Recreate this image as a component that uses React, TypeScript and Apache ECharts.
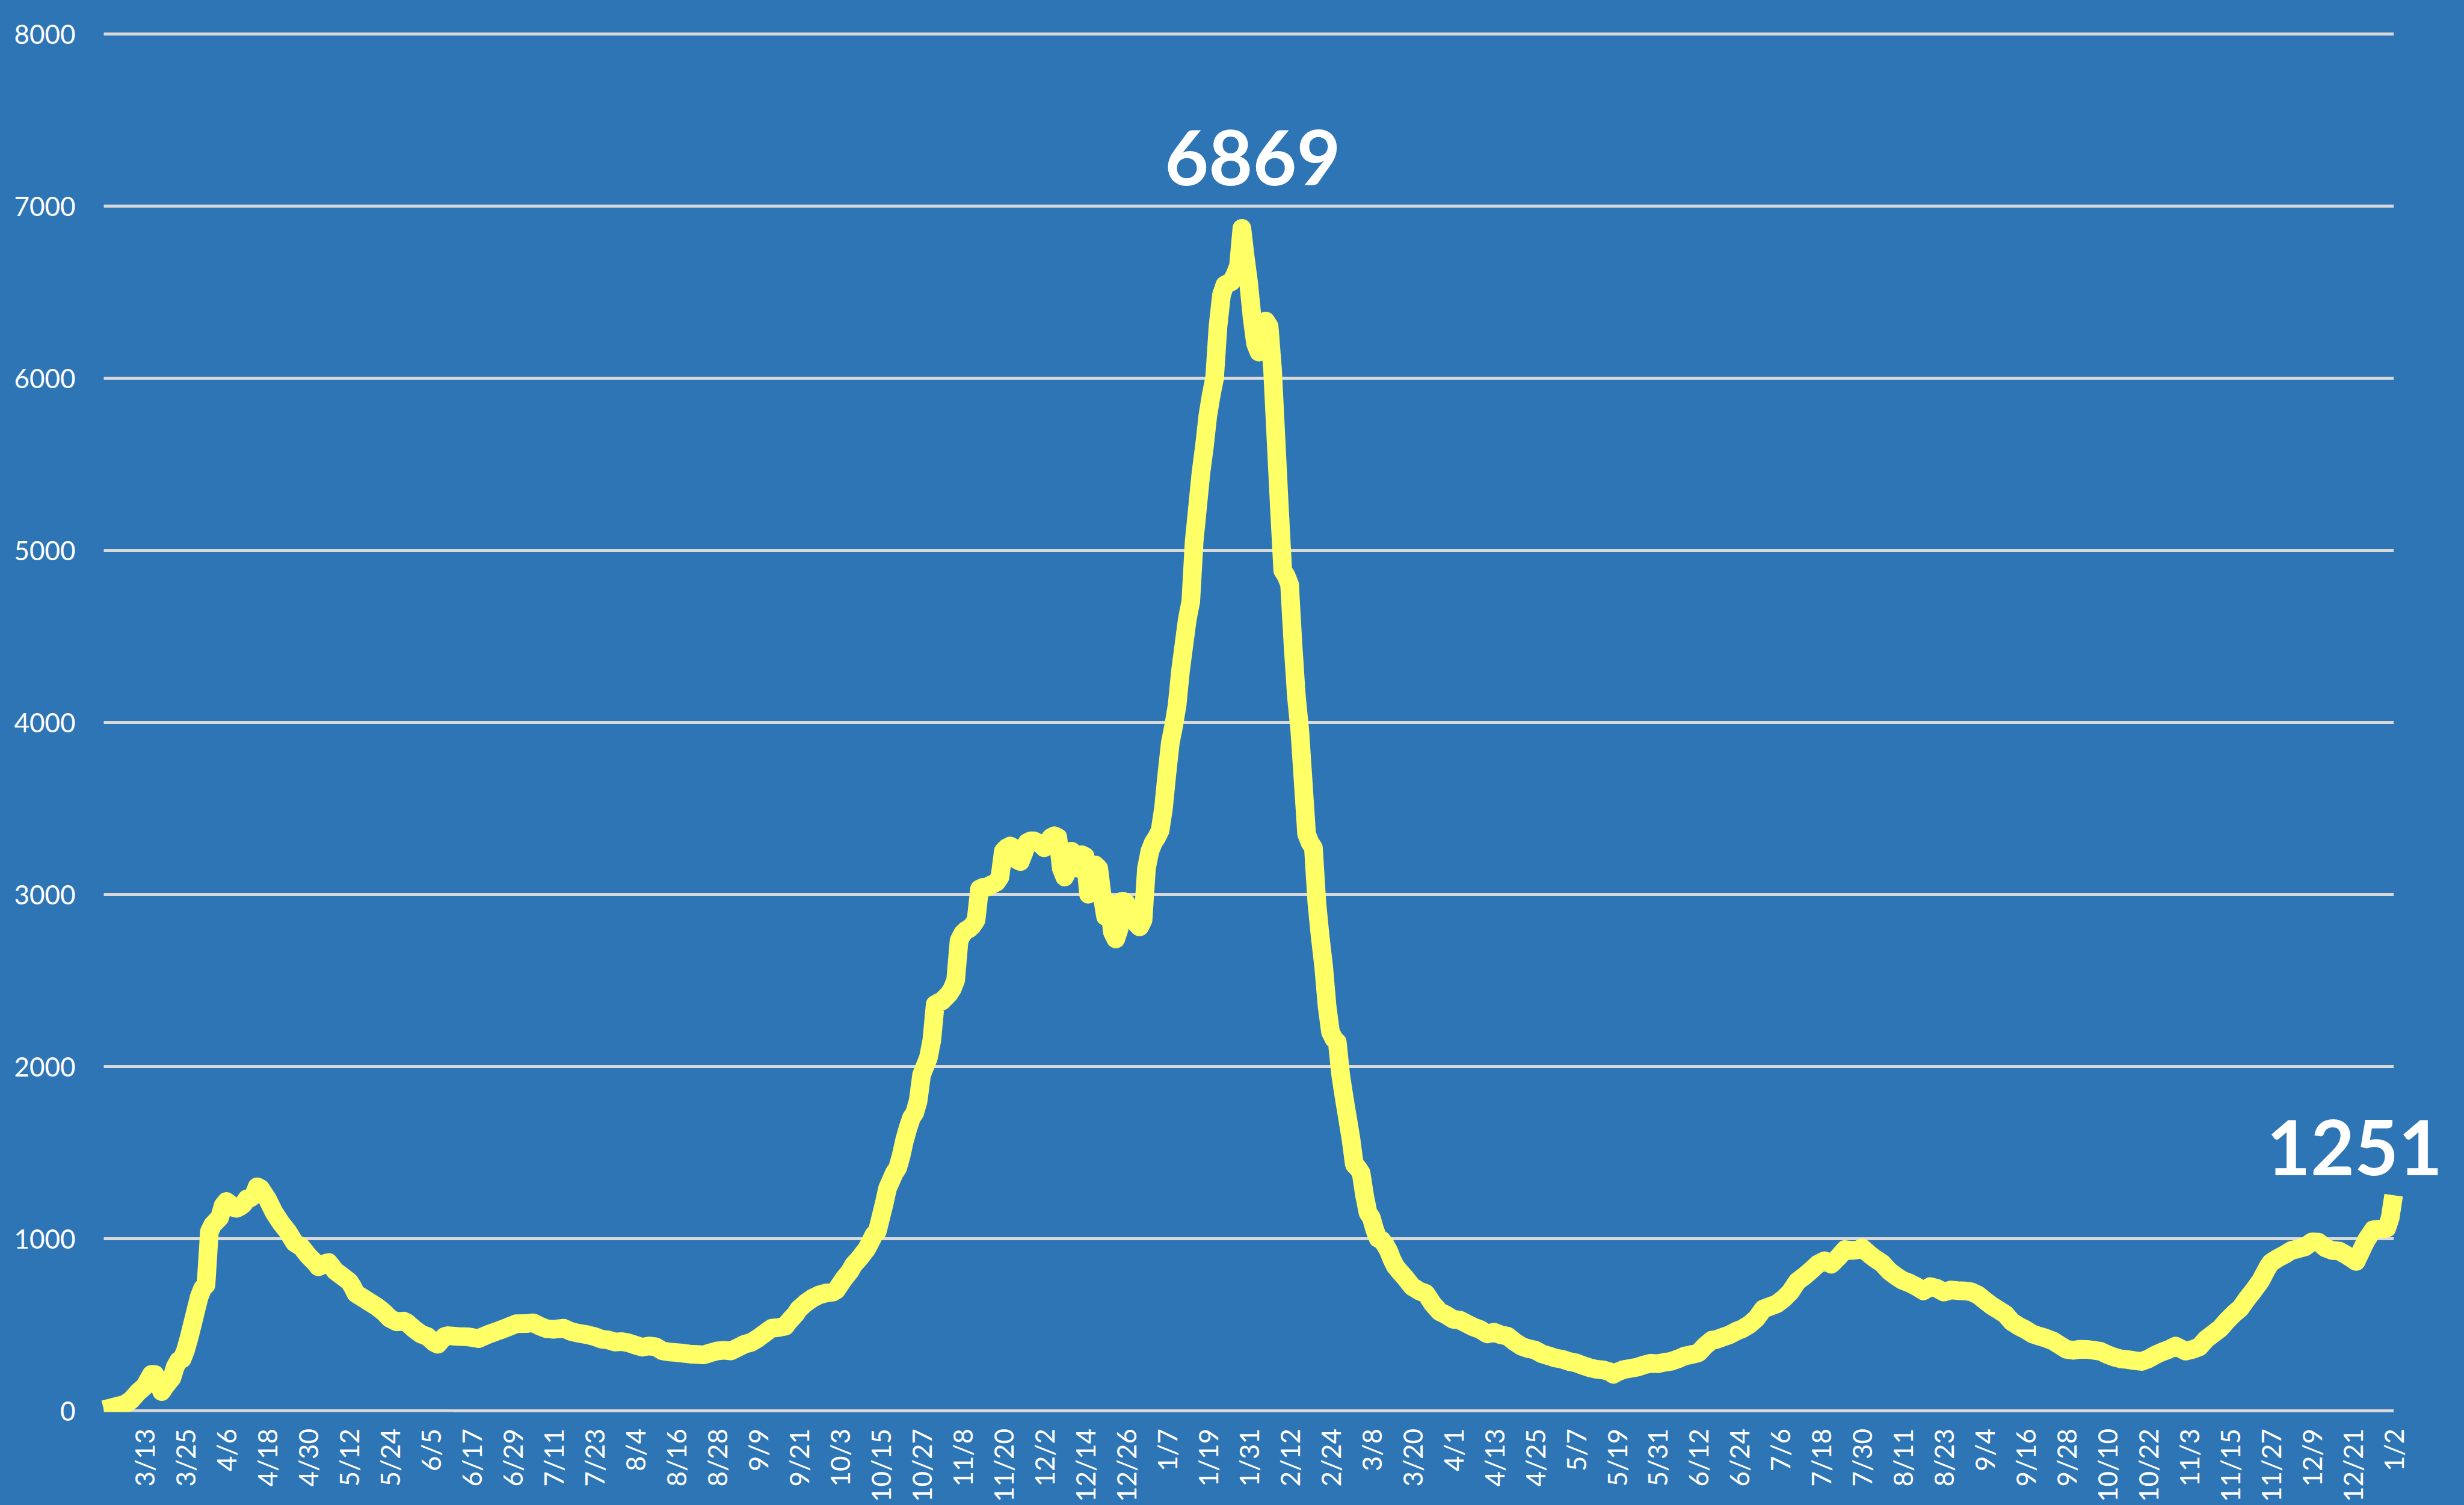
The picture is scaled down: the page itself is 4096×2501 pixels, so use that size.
import React, { useEffect, useRef } from "react";
import * as echarts from "echarts";

// ---- categories: one per day from 3/1/2020 to 1/2/2022 ----
const FIRST_DAY = Date.UTC(2020, 2, 1);
const DAY_COUNT = 673;
const dates: string[] = Array.from({ length: DAY_COUNT }, (_, i) => {
  const d = new Date(FIRST_DAY + i * 86400000);
  return `${d.getUTCMonth() + 1}/${d.getUTCDate()}/${d.getUTCFullYear()}`;
});

// ---- y axis ticks ----
const Y_MIN = 0;
const Y_MAX = 8000;
const Y_STEP = 1000;

// ---- readings: [day index since 3/1/2020, value] ----
const spring2020: [number, number][] = [
  [0, 5], [2, 15], [4, 25], [6, 35], [8, 60], [10, 105], [12, 140], [14, 210], [15, 210], [17, 110],
  [18, 140], [20, 190], [21, 255], [22, 290], [23, 300], [24, 350], [25, 420], [26, 500], [27, 580],
  [28, 660], [29, 710], [30, 730], [31, 1040], [32, 1080], [33, 1100], [34, 1120], [35, 1190], [36, 1215],
  [37, 1200], [38, 1180], [39, 1175], [40, 1185], [41, 1200], [42, 1230], [43, 1235], [44, 1250], [45, 1300],
  [46, 1290], [47, 1260], [48, 1230], [50, 1150], [52, 1090], [54, 1040], [56, 975], [58, 950], [60, 900],
  [62, 860], [63, 835], [65, 855], [66, 860], [68, 810], [70, 780], [72, 750], [73, 720], [74, 680],
  [76, 655], [78, 630], [80, 605], [82, 575], [84, 535], [86, 515], [88, 520], [89, 510], [91, 475],
  [93, 445], [95, 430], [97, 395], [98, 385],
];
const summer2020: [number, number][] = [
  [100, 430], [101, 435], [104, 430], [107, 428], [110, 418], [113, 444], [116, 465], [118, 480], [121, 504],
  [124, 505], [126, 510], [128, 490], [130, 475], [132, 472], [135, 478], [137, 460], [139, 450], [142, 440],
  [144, 430], [146, 415], [148, 410], [150, 398], [152, 400], [154, 393], [156, 380], [158, 368], [160, 375],
  [162, 370], [164, 346], [166, 340], [168, 337], [170, 333], [172, 328], [174, 326], [176, 323], [178, 335],
  [180, 346], [182, 350], [184, 346], [186, 365], [188, 385], [190, 396], [192, 420], [194, 450], [196, 478],
  [198, 482],
];
const fall2020: [number, number][] = [
  [200, 490], [201, 517], [203, 560], [204, 590], [206, 625], [208, 653], [210, 672], [212, 683], [214, 688],
  [215, 700], [217, 760], [219, 810], [220, 845], [222, 890], [224, 942], [226, 1020], [227, 1040], [228, 1120],
  [229, 1200], [230, 1290], [232, 1380], [233, 1410], [234, 1480], [235, 1570], [236, 1640], [237, 1700],
  [238, 1730], [239, 1800], [240, 1950], [241, 2000], [242, 2050], [243, 2150], [244, 2360], [245, 2370],
  [246, 2380], [247, 2400], [248, 2420], [249, 2450], [250, 2500], [251, 2730], [252, 2770], [253, 2790],
  [254, 2800], [255, 2820], [256, 2850], [257, 3030], [258, 3040], [259, 3040], [260, 3050], [261, 3060],
  [262, 3070], [263, 3100], [264, 3250], [265, 3270], [266, 3280], [267, 3270], [268, 3200], [269, 3190],
  [270, 3240], [271, 3300], [272, 3310], [273, 3310], [274, 3300], [275, 3290], [276, 3270], [277, 3300],
  [278, 3330], [279, 3340], [280, 3330], [281, 3150], [282, 3100], [283, 3150], [284, 3250], [285, 3230],
  [286, 3150], [287, 3230], [288, 3220], [289, 3000], [290, 3100], [291, 3170], [292, 3150], [293, 2990],
  [294, 2870], [295, 2950], [296, 2780], [297, 2740], [298, 2800], [299, 2960], [300, 2950], [301, 2880],
  [302, 2900], [303, 2830], [304, 2810], [305, 2850],
];
const winter2021: [number, number][] = [
  [306, 3150], [307, 3250], [308, 3300], [309, 3330], [310, 3370], [311, 3500], [312, 3700], [313, 3880],
  [314, 3980], [315, 4100], [316, 4300], [317, 4450], [318, 4600], [319, 4700], [320, 5050], [321, 5250],
  [322, 5450], [323, 5600], [324, 5780], [325, 5900], [326, 6000], [327, 6300], [328, 6480], [329, 6540],
  [330, 6550], [331, 6560], [332, 6600], [333, 6650], [334, 6869], [335, 6700], [336, 6550], [337, 6350],
  [338, 6200], [339, 6150], [340, 6250], [341, 6330], [342, 6300], [343, 6050], [344, 5650], [345, 5250],
  [346, 4880], [347, 4850], [348, 4800], [349, 4450], [350, 4150], [351, 3950], [352, 3650], [353, 3350],
  [354, 3300], [355, 3270], [356, 2950], [357, 2750], [358, 2580], [359, 2350], [360, 2200], [361, 2160],
  [362, 2140], [363, 1950], [364, 1820], [365, 1700], [366, 1580], [367, 1430], [368, 1410], [369, 1380],
  [370, 1250], [371, 1150], [372, 1120], [373, 1050], [374, 1000], [375, 990], [376, 965], [377, 930],
  [378, 880], [379, 840],
];
const spring2021: [number, number][] = [
  [380, 815], [382, 770], [384, 720], [386, 695], [388, 680], [390, 620], [392, 575], [394, 555], [396, 530],
  [398, 525], [400, 505], [402, 485], [404, 470], [406, 445], [408, 455], [410, 440], [412, 432], [414, 400],
  [416, 374], [418, 360], [420, 352], [422, 330], [424, 318], [426, 305], [428, 298], [430, 285], [432, 277],
  [434, 262], [436, 249], [438, 240], [440, 236], [442, 225], [443, 210], [444, 222], [446, 238], [448, 245],
  [450, 252], [452, 265], [454, 275], [456, 272], [458, 280], [460, 286], [462, 300], [464, 317], [466, 325],
  [468, 335],
];
const summer2021: [number, number][] = [
  [470, 377], [472, 410], [473, 411], [475, 425], [477, 439], [479, 460], [481, 476], [483, 500], [485, 535],
  [487, 590], [489, 605], [491, 620], [493, 650], [495, 690], [497, 750], [499, 780], [501, 814], [503, 850],
  [505, 870], [507, 850], [509, 890], [511, 935], [513, 930], [515, 935], [516, 945], [518, 910], [520, 880],
  [522, 854], [524, 810], [526, 780], [528, 755], [530, 740], [532, 720], [534, 695], [536, 720], [538, 710],
  [540, 688], [542, 700], [544, 697], [546, 695], [548, 690], [550, 672], [552, 640], [554, 610], [556, 585],
  [558, 560], [560, 515], [562, 490], [564, 470], [566, 445], [568, 432],
];
const winter2022: [number, number][] = [
  [570, 420], [572, 405], [574, 380], [576, 355], [578, 350], [580, 356], [582, 355], [584, 350], [586, 344],
  [588, 325], [590, 310], [592, 300], [594, 296], [596, 290], [598, 285], [600, 300], [602, 322], [604, 340],
  [606, 355], [608, 375], [610, 355], [611, 345], [613, 355], [615, 370], [617, 415], [619, 445], [621, 475],
  [623, 520], [625, 560], [627, 594], [629, 650], [631, 700], [633, 755], [635, 830], [636, 860], [638, 885],
  [640, 906], [642, 930], [644, 940], [646, 951], [648, 980], [650, 978], [652, 945], [654, 930], [656, 927],
  [658, 905], [660, 880], [661, 866], [663, 950], [664, 990], [666, 1050], [668, 1055], [670, 1060],
  [671, 1120], [672, 1251],
];

// days whose values are written on the chart
const PEAK_DAY = 334;
const LAST_DAY = 672;

// ---- layout (px in the 4096 x 2501 window) ----
const W = 4096;
const H = 2501;
const GRID = { left: 172.5, right: 117, top: 56, bottom: 157 };
const BG = "#2E75B6";
const LINE = "#FFFF66";
const GRIDLINE = "#D9D9D9";
const FONT = "Lato";

export default function App() {
  const ref = useRef<HTMLDivElement>(null);

  useEffect(() => {
    document.body.style.margin = "0";
    if (!ref.current) return;
    const chart = echarts.init(ref.current, undefined, { renderer: "svg" });

    const all = [
      ...spring2020, ...summer2020, ...fall2020, ...winter2021,
      ...spring2021, ...summer2021, ...winter2022,
    ];
    const labelBase = {
      show: true,
      position: "top",
      color: "#ffffff",
      opacity: 1,
      fontFamily: FONT,
      fontWeight: "bold",
      fontSize: 126,
      formatter: (p: any) => String(p.value[1]),
    };
    const data = all.map(([d, v]) => {
      if (d === PEAK_DAY) {
        return {
          value: [d, v], symbol: "circle", symbolSize: 1,
          label: { ...labelBase, distance: 56, offset: [18, 0] },
        };
      }
      if (d === LAST_DAY) {
        return {
          value: [d, v], symbol: "circle", symbolSize: 1,
          label: { ...labelBase, distance: 18, offset: [-65, 0] },
        };
      }
      return { value: [d, v] };
    });

    const zeroY = H - GRID.bottom;

    chart.setOption({
      animation: false,
      backgroundColor: BG,
      grid: { ...GRID, containLabel: false },
      xAxis: {
        type: "category",
        data: dates,
        boundaryGap: false,
        axisLine: { show: false },
        axisTick: { show: false },
        splitLine: { show: false },
        axisLabel: {
          interval: (i: number) => i > 0 && i % 12 === 0,
          rotate: 90,
          margin: 30,
          color: "#ffffff",
          fontFamily: FONT,
          fontSize: 44,
          formatter: (v: string) => v.split("/").slice(0, 2).join("/"),
        },
      },
      yAxis: {
        type: "value",
        min: Y_MIN,
        max: Y_MAX,
        interval: Y_STEP,
        axisLine: { show: false },
        axisTick: { show: false },
        axisLabel: {
          color: "#ffffff",
          fontFamily: FONT,
          fontSize: 44,
          margin: 47,
          formatter: (v: number) => String(v),
        },
        splitLine: { lineStyle: { color: GRIDLINE, width: 5 } },
      },
      series: [
        {
          type: "line",
          data,
          symbol: "none",
          showSymbol: true,
          showAllSymbol: true,
          lineStyle: { color: LINE, width: 31, cap: "butt", join: "round" },
          itemStyle: { color: LINE },
          z: 3,
        },
      ],
      graphic: [
        {
          // keeps the thick line from spilling below the zero line, as in the original
          type: "rect",
          z: 100,
          silent: true,
          shape: { x: GRID.left - 20, y: zeroY + 2.5, width: 600, height: 20 },
          style: { fill: BG },
        },
      ],
    });

    return () => chart.dispose();
  }, []);

  return (
    <div
      ref={ref}
      style={{ position: "fixed", left: 0, top: 0, width: W, height: H }}
    />
  );
}
